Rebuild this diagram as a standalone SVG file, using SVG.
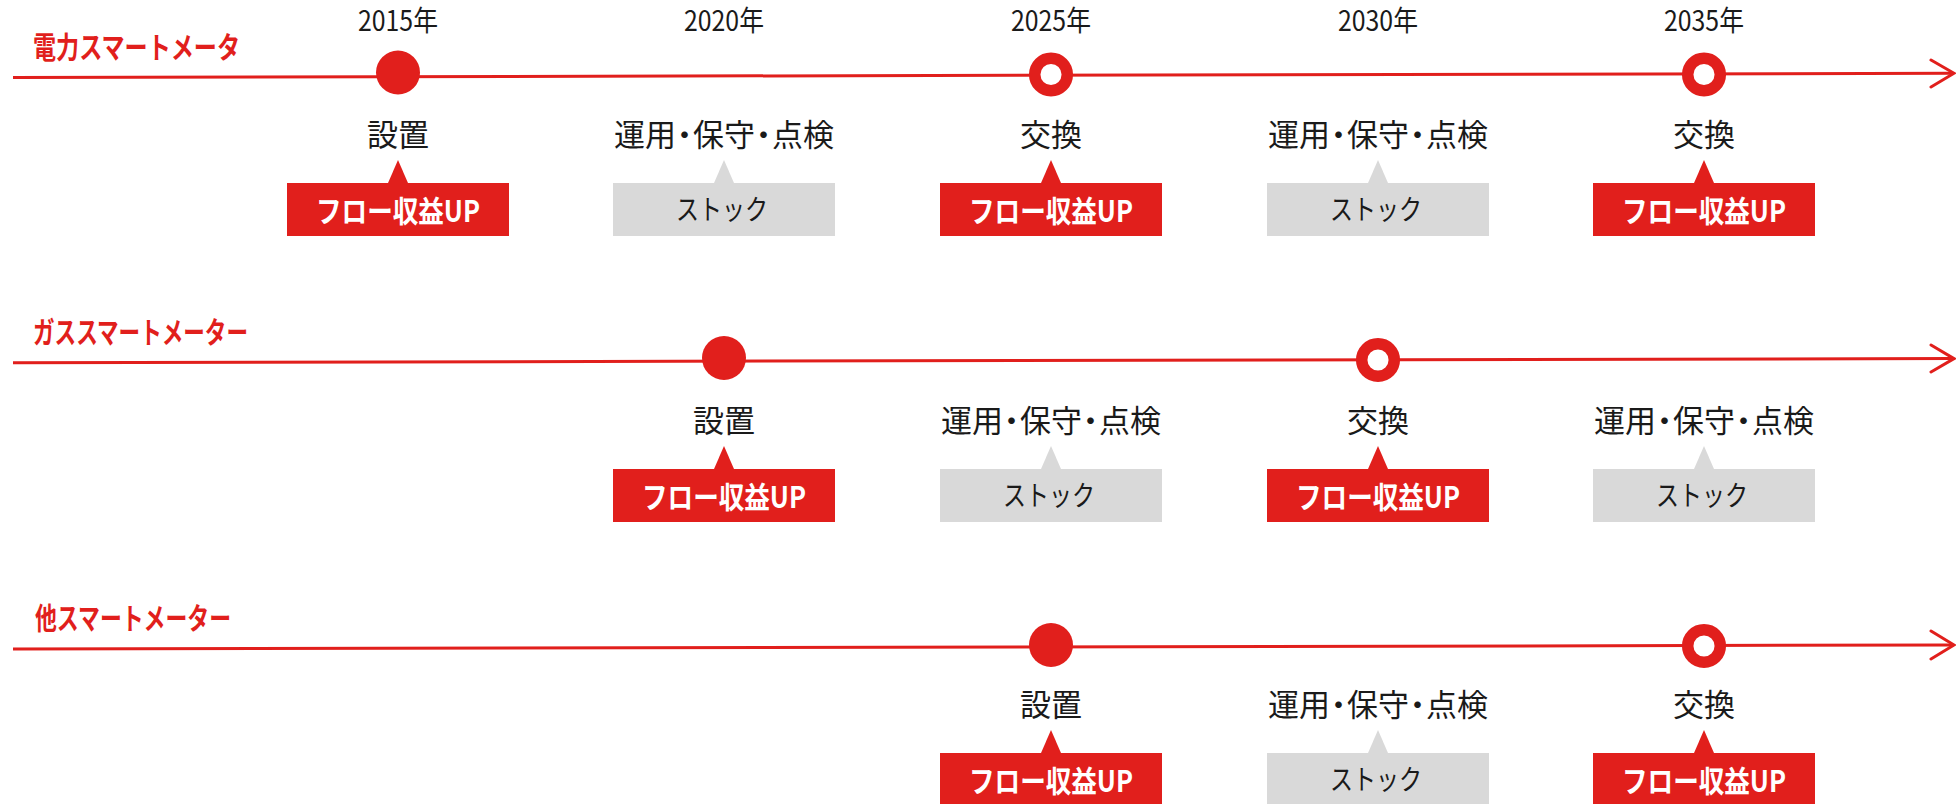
<svg xmlns="http://www.w3.org/2000/svg" width="1956" height="804" viewBox="0 0 1956 804">
<style>
.bg{fill:#ffffff}
.axis{stroke:#e11f1c;stroke-width:3;fill:none}
.head{stroke:#e11f1c;stroke-width:3;fill:none;stroke-linecap:round;stroke-linejoin:miter}
.dot{fill:#e11f1c}
.ring{fill:#ffffff;stroke:#e11f1c;stroke-width:11.5}
.title{font-family:"Noto Sans CJK JP","Noto Sans",sans-serif;font-weight:700;font-size:30px;fill:#e11f1c}
.year{font-family:"Noto Sans CJK JP","Noto Sans",sans-serif;font-size:28px;fill:#1a1a1a;text-anchor:middle}
.lbl{font-family:"Noto Sans CJK JP","Noto Sans",sans-serif;font-size:31px;fill:#1a1a1a;text-anchor:middle}
.rbox{fill:#e11f1c}
.gbox{fill:#d9d9d9}
.rtxt{font-family:"Noto Sans CJK JP","Noto Sans",sans-serif;font-weight:700;font-size:30px;fill:#ffffff;text-anchor:middle}
.gtxt{font-family:"Noto Sans CJK JP","Noto Sans",sans-serif;font-size:28px;fill:#1a1a1a;text-anchor:middle}
</style>
<defs>
<g id="flow">
<polygon class="rbox" points="-10,23 0,0 10,23"/>
<rect class="rbox" x="-111" y="23" width="222" height="53"/>
<text class="rtxt" x="0" y="62" textLength="164" lengthAdjust="spacingAndGlyphs">フロー収益UP</text>
</g>
<g id="stock">
<polygon class="gbox" points="-10,23 0,0 10,23"/>
<rect class="gbox" x="-111" y="23" width="222" height="53"/>
<text class="gtxt" x="-2" y="60" textLength="92" lengthAdjust="spacingAndGlyphs">ストック</text>
</g>
<g id="ops">
<text class="lbl" x="0" y="0">運用<tspan dx="-7">・</tspan><tspan dx="-7">保守</tspan><tspan dx="-7">・</tspan><tspan dx="-7">点検</tspan></text>
</g>
</defs>
<rect class="bg" x="0" y="0" width="1956" height="804"/>

<g id="years">
<text class="year" x="398" y="31" textLength="80" lengthAdjust="spacingAndGlyphs">2015年</text>
<text class="year" x="724" y="31" textLength="80" lengthAdjust="spacingAndGlyphs">2020年</text>
<text class="year" x="1051" y="31" textLength="80" lengthAdjust="spacingAndGlyphs">2025年</text>
<text class="year" x="1378" y="31" textLength="80" lengthAdjust="spacingAndGlyphs">2030年</text>
<text class="year" x="1704" y="31" textLength="80" lengthAdjust="spacingAndGlyphs">2035年</text>
</g>

<g id="connectors">
<line class="axis" x1="13" y1="77.5" x2="1953" y2="73.3"/>
<polyline class="head" points="1931,60 1954,73.3 1931,87"/>
<line class="axis" x1="13" y1="362.7" x2="1953" y2="358.6"/>
<polyline class="head" points="1931,345 1954,358.6 1931,372"/>
<line class="axis" x1="13" y1="649" x2="1953" y2="645"/>
<polyline class="head" points="1931,631 1954,645 1931,659"/>
</g>

<g id="row1">
<text class="title" x="33" y="58" textLength="207" lengthAdjust="spacingAndGlyphs">電力スマートメータ</text>
<g id="r1-2015">
<circle class="dot" cx="398" cy="72.5" r="22"/>
<text class="lbl" x="398" y="146" textLength="62" lengthAdjust="spacingAndGlyphs">設置</text>
<use href="#flow" x="398" y="160"/>
</g>
<g id="r1-2020">
<use href="#ops" x="724" y="146"/>
<use href="#stock" x="724" y="160"/>
</g>
<g id="r1-2025">
<circle class="ring" cx="1051" cy="74.5" r="16.3"/>
<text class="lbl" x="1051" y="146" textLength="62" lengthAdjust="spacingAndGlyphs">交換</text>
<use href="#flow" x="1051" y="160"/>
</g>
<g id="r1-2030">
<use href="#ops" x="1378" y="146"/>
<use href="#stock" x="1378" y="160"/>
</g>
<g id="r1-2035">
<circle class="ring" cx="1704" cy="74.5" r="16.3"/>
<text class="lbl" x="1704" y="146" textLength="62" lengthAdjust="spacingAndGlyphs">交換</text>
<use href="#flow" x="1704" y="160"/>
</g>
</g>

<g id="row2">
<text class="title" x="33" y="343" textLength="215" lengthAdjust="spacingAndGlyphs">ガススマートメーター</text>
<g id="r2-2020">
<circle class="dot" cx="724" cy="358" r="22"/>
<text class="lbl" x="724" y="432" textLength="62" lengthAdjust="spacingAndGlyphs">設置</text>
<use href="#flow" x="724" y="446"/>
</g>
<g id="r2-2025">
<use href="#ops" x="1051" y="432"/>
<use href="#stock" x="1051" y="446"/>
</g>
<g id="r2-2030">
<circle class="ring" cx="1378" cy="360" r="16.3"/>
<text class="lbl" x="1378" y="432" textLength="62" lengthAdjust="spacingAndGlyphs">交換</text>
<use href="#flow" x="1378" y="446"/>
</g>
<g id="r2-2035">
<use href="#ops" x="1704" y="432"/>
<use href="#stock" x="1704" y="446"/>
</g>
</g>

<g id="row3">
<text class="title" x="35" y="629" textLength="196" lengthAdjust="spacingAndGlyphs">他スマートメーター</text>
<g id="r3-2025">
<circle class="dot" cx="1051" cy="645" r="22"/>
<text class="lbl" x="1051" y="716" textLength="62" lengthAdjust="spacingAndGlyphs">設置</text>
<use href="#flow" x="1051" y="730"/>
</g>
<g id="r3-2030">
<use href="#ops" x="1378" y="716"/>
<use href="#stock" x="1378" y="730"/>
</g>
<g id="r3-2035">
<circle class="ring" cx="1704" cy="646" r="16.3"/>
<text class="lbl" x="1704" y="716" textLength="62" lengthAdjust="spacingAndGlyphs">交換</text>
<use href="#flow" x="1704" y="730"/>
</g>
</g>
</svg>
